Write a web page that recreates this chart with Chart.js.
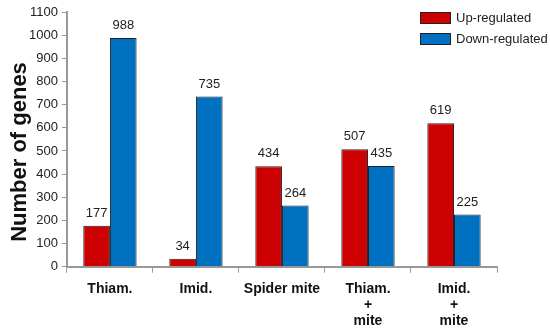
<!DOCTYPE html>
<html>
<head>
<meta charset="utf-8">
<script src="https://cdn.jsdelivr.net/npm/chart.js@4/dist/chart.umd.min.js"></script>
<style>
  html, body { margin: 0; padding: 0; background: #fff; }
  #wrap { width: 550px; height: 330px; }
</style>
</head>
<body>
<div id="wrap"><canvas id="lienzo"></canvas></div>
<script>
'use strict';

const categorias = ['Thiam.', 'Imid.', 'Spider mite', ['Thiam.', '+', 'mite'], ['Imid.', '+', 'mite']];
const upRegulated = [177, 34, 434, 507, 619];
const downRegulated = [988, 735, 264, 435, 225];
const ticksY = [0, 100, 200, 300, 400, 500, 600, 700, 800, 900, 1000, 1100];
const tituloY = 'Number of genes';

const fuente = '"Liberation Sans", Arial, sans-serif';

// etiquetas de valor encima de cada barra
const etiquetasValor = {
    id: 'etiquetasValor',
    afterDatasetsDraw(chart) {
        const ctx = chart.ctx;
        ctx.save();
        ctx.font = '13px ' + fuente;
        ctx.fillStyle = '#222';
        ctx.textAlign = 'center';
        ctx.textBaseline = 'bottom';
        chart.data.datasets.forEach((ds, i) => {
            chart.getDatasetMeta(i).data.forEach((bar, j) => {
                ctx.fillText(ds.data[j], bar.x, bar.y - 6);
            });
        });
        ctx.restore();
    }
};

// leyenda dibujada dentro del area, arriba a la derecha + titulo del eje Y
const leyenda = {
    id: 'leyenda',
    afterDraw(chart) {
        const ctx = chart.ctx;
        ctx.save();
        ctx.font = '13px ' + fuente;
        ctx.textBaseline = 'middle';
        chart.data.datasets.forEach((ds, i) => {
            const y = 12 + i * 21;
            ctx.fillStyle = ds.backgroundColor;
            ctx.fillRect(420, y, 31, 12);
            ctx.strokeStyle = '#222';
            ctx.lineWidth = 1;
            ctx.strokeRect(420.5, y + 0.5, 30, 11);
            ctx.fillStyle = '#222';
            ctx.fillText(ds.label, 456, y + 6);
        });
        // titulo del eje Y, algo mas abajo que el centro del area
        ctx.translate(20, 152);
        ctx.rotate(-Math.PI / 2);
        ctx.font = 'bold 22px ' + fuente;
        ctx.fillStyle = '#111';
        ctx.textAlign = 'center';
        ctx.fillText(tituloY, 0, 0);
        ctx.restore();
    }
};

const ctx = document.getElementById('lienzo');

new Chart(ctx, {
    type: 'bar',
    data: {
        labels: categorias,
        datasets: [{
            label: 'Up-regulated',
            data: upRegulated,
            backgroundColor: '#CC0000',
            borderColor: '#222',
            borderWidth: 1,
            categoryPercentage: 0.62,
            barPercentage: 1
        },
        {
            label: 'Down-regulated',
            data: downRegulated,
            backgroundColor: '#0070C0',
            borderColor: '#222',
            borderWidth: 1,
            categoryPercentage: 0.62,
            barPercentage: 1
        }]
    },
    options: {
        responsive: true,
        maintainAspectRatio: false,
        animation: false,
        layout: { padding: { top: 12, right: 53, bottom: -7, left: 25 } },
        plugins: {
            legend: { display: false },
            tooltip: { enabled: false }
        },
        scales: {
            x: {
                grid: { display: true, offset: true, drawOnChartArea: false, drawTicks: true, tickLength: 6, color: '#999' },
                border: { color: '#999', width: 2 },
                ticks: {
                    color: '#111',
                    font: { family: fuente, size: 14, weight: 'bold', lineHeight: 1.15 },
                    padding: 8,
                    maxRotation: 0
                }
            },
            y: {
                min: 0,
                max: 1100,
                afterBuildTicks: (axis) => { axis.ticks = ticksY.map(v => ({ value: v })); },
                grid: { display: true, drawOnChartArea: false, drawTicks: true, tickLength: 5, color: '#999' },
                border: { color: '#999', width: 2 },
                ticks: {
                    color: '#222',
                    font: { family: fuente, size: 13 },
                    padding: 4,
                    callback: (v) => String(v)
                }
            }
        }
    },
    plugins: [etiquetasValor, leyenda]
});
</script>
</body>
</html>
